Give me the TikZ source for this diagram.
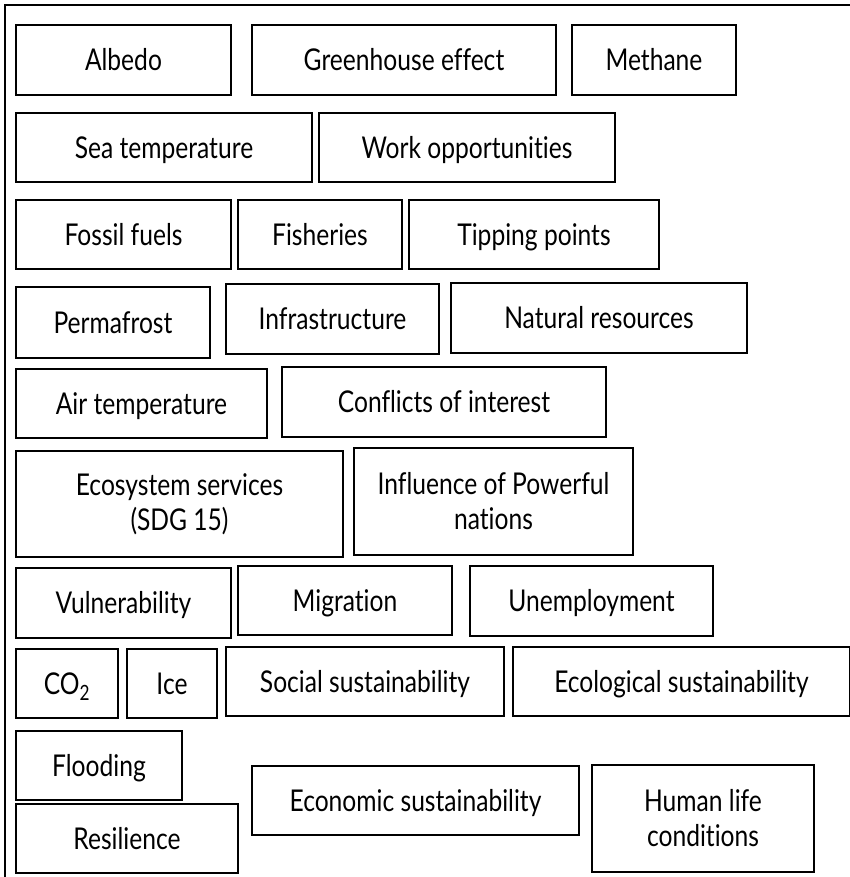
\documentclass[tikz,border=0pt]{standalone}
\usepackage{fontspec}
\setmainfont[FakeStretch=0.82, Ligatures={NoCommon}]{Lato}
\begin{document}
\begin{tikzpicture}[x=1pt,y=-1pt,
  every node/.style={font=\fontsize{30}{35}\selectfont},
  term/.style={draw=black, line width=1.8pt, inner sep=0pt, outer sep=0pt,
    text height=21.5pt, text depth=0pt, align=center},
  twoline/.style={text height={}, text depth={}},
  sz/.style 2 args={minimum width=#1pt, minimum height=#2pt}]
\useasboundingbox (0,0) rectangle (850,877);
\clip (0,0) rectangle (850,877);
% outer frame, running off the right and lower edges
\draw[line width=1.8pt] (5,900) -- (5,5) -- (900,5);

% row 1
\node[term, sz={215}{70}] (albedo)     at (123.5,60)  {Albedo};
\node[term, sz={304}{70}] (greenhouse) at (404,60)    {Greenhouse effect};
\node[term, sz={164}{70}] (methane)    at (654,60)    {Methane};
% row 2
\node[term, sz={296}{69}] (seatemp)    at (164,147.5) {Sea temperature};
\node[term, sz={296}{69}] (work)       at (467,147.5) {Work opportunities};
% row 3
\node[term, sz={215}{69}] (fossil)     at (123.5,234.5) {Fossil fuels};
\node[term, sz={164}{69}] (fisheries)  at (320,234.5) {Fisheries};
\node[term, sz={250}{69}] (tipping)    at (534,234.5) {Tipping points};
% row 4
\node[term, sz={194}{71}] (permafrost) at (113,322.5) {Permafrost};
\node[term, sz={213}{70}] (infra)      at (332.5,319) {Infrastructure};
\node[term, sz={296}{70}] (natres)     at (599,318)   {Natural resources};
% row 5
\node[term, sz={251}{69}] (airtemp)    at (141.5,403.5) {Air temperature};
\node[term, sz={324}{70}] (conflicts)  at (444,402)   {Conflicts of interest};
% row 6
\node[term, twoline, sz={327}{106}] (ecosys)    at (179.5,504) {Ecosystem services\\(SDG 15)};
\node[term, twoline, sz={279}{107}] (influence) at (493.5,501.5) {Influence of Powerful\\nations};
% row 7
\node[term, sz={215}{70}] (vulner)     at (123.5,603) {Vulnerability};
\node[term, sz={214}{69}] (migration)  at (345,600.5) {Migration};
\node[term, sz={243}{70}] (unemploy)   at (591.5,601) {Unemployment};
% row 8
\node[term, sz={102}{69}] (co2)        at (67,683.5)  {CO\textsubscript{2}};
\node[term, sz={90}{69}]  (ice)        at (172,683.5) {Ice};
\node[term, sz={278}{69}] (social)     at (365,681.5) {Social sustainability};
\node[term, sz={337}{69}] (ecolog)     at (681.5,681.5) {Ecological sustainability};
% bottom rows
\node[term, sz={166}{69}] (flooding)   at (99,765.5)  {Flooding};
\node[term, sz={222}{69}] (resilience) at (127,838.5) {Resilience};
\node[term, sz={327}{69}] (economic)   at (415.5,800.5) {Economic sustainability};
\node[term, twoline, sz={222}{107}] (human) at (703,818.5) {Human life\\conditions};
\end{tikzpicture}
\end{document}
